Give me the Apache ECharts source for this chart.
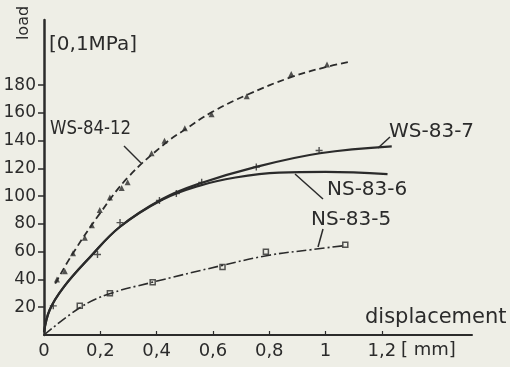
<!DOCTYPE html>
<html>
<head>
<meta charset="utf-8">
<script src="https://cdn.jsdelivr.net/npm/echarts@6/dist/echarts.min.js"></script>
<style>
  html, body { margin: 0; padding: 0; background: #eeeee6; }
  #main { width: 510px; height: 367px; }
</style>
</head>
<body>
<div id="main"></div>
<script>
// axis ticks
var xTicks = [0, 0.2, 0.4, 0.6, 0.8, 1.0, 1.2];
var yTicks = [20, 40, 60, 80, 100, 120, 140, 160, 180];

// WS-84-12 (dashed, triangles)
var ws8412CurveX = [0.04, 0.1, 0.2, 0.3, 0.43, 0.5, 0.6, 0.72, 0.88, 1.0, 1.09];
var ws8412CurveY = [37, 58, 88, 114, 138, 148, 161, 173, 186, 193, 197];
var ws8412PtsX = [0.046, 0.074, 0.103, 0.145, 0.17, 0.198, 0.234, 0.276, 0.297, 0.382, 0.428, 0.5, 0.595, 0.72, 0.878, 1.005];
var ws8412PtsY = [40, 46, 59, 70, 79, 90, 99, 106, 110, 131, 140, 149, 159, 172, 188, 195];

// WS-83-7 (solid)
var ws837CurveX = [0, 0.02, 0.068, 0.163, 0.27, 0.42, 0.55, 0.75, 0.98, 1.235];
var ws837CurveY = [2, 18, 34, 56, 78, 98, 109, 121, 131, 136];
var ws837PtsX = [0.033, 0.19, 0.27, 0.41, 0.47, 0.56, 0.754, 0.977];
var ws837PtsY = [21, 58, 81, 97, 102, 110, 121, 133];

// NS-83-6 (solid)
var ns836CurveX = [0, 0.02, 0.068, 0.163, 0.27, 0.42, 0.55, 0.68, 0.835, 1.0, 1.22];
var ns836CurveY = [2, 18, 34, 56, 78, 97.5, 107.5, 113.5, 117, 117.5, 116];

// NS-83-5 (dash-dot, squares)
var ns835CurveX = [0, 0.13, 0.23, 0.375, 0.63, 0.8, 0.95, 1.07];
var ns835CurveY = [0, 20, 29.5, 37.5, 50, 57.5, 61.5, 64.5];
var ns835PtsX = [0.127, 0.234, 0.386, 0.634, 0.788, 1.07];
var ns835PtsY = [21, 30, 38, 49, 60, 65];

function pairs(xs, ys) {
  return xs.map(function (x, i) { return [x, ys[i]]; });
}

var ink = '#2b2b2b';
var font = 'DejaVu Sans';

var chart = echarts.init(document.getElementById('main'), null, { renderer: 'canvas' });

function label(text, x, y, size, sx) {
  return {
    type: 'text', x: x, y: y, scaleX: sx || 1,
    style: { text: text, fill: ink, font: size + 'px "' + font + '"', textVerticalAlign: 'top' },
    z: 10
  };
}
function leader(points) {
  return {
    type: 'polyline', shape: { points: points },
    style: { stroke: ink, lineWidth: 1.5, fill: null }, z: 10
  };
}

var option = {
  backgroundColor: '#eeeee6',
  animation: false,
  grid: { left: 44, top: 20, width: 428, height: 315 },
  xAxis: {
    type: 'value', min: 0, max: 1.52,
    splitLine: { show: false },
    axisLine: { lineStyle: { color: ink, width: 2 } },
    axisTick: { customValues: [0.2, 0.4, 0.6, 0.8, 1.0, 1.2], inside: true, length: 4, lineStyle: { color: ink, width: 1.2 } },
    axisLabel: {
      customValues: xTicks, margin: 7, color: ink, fontFamily: font, fontSize: 18,
      formatter: function (v) { return String(v).replace('.', ','); }
    }
  },
  yAxis: {
    type: 'value', min: 0, max: 227,
    splitLine: { show: false },
    axisLine: { lineStyle: { color: ink, width: 2.5 } },
    axisTick: { customValues: yTicks, length: 6, lineStyle: { color: ink, width: 1.5 } },
    axisLabel: { customValues: yTicks, margin: 8, color: ink, fontFamily: font, fontSize: 17 }
  },
  series: [
    { type: 'line', data: pairs(ws8412CurveX, ws8412CurveY), smooth: 0.4, symbol: 'none',
      lineStyle: { color: ink, width: 1.8, type: [7, 4] } },
    { type: 'line', data: pairs(ws837CurveX, ws837CurveY), smooth: 0.4, symbol: 'none',
      lineStyle: { color: ink, width: 2.2 } },
    { type: 'line', data: pairs(ns836CurveX, ns836CurveY), smooth: 0.4, symbol: 'none',
      lineStyle: { color: ink, width: 2.2 } },
    { type: 'line', data: pairs(ns835CurveX, ns835CurveY), smooth: 0.4, symbol: 'none',
      lineStyle: { color: ink, width: 1.6, type: [10, 3, 2, 3] } },
    { type: 'scatter', data: pairs(ws8412PtsX, ws8412PtsY), symbol: 'triangle', symbolSize: 6,
      itemStyle: { color: ink } },
    { type: 'scatter', data: pairs(ws837PtsX, ws837PtsY), symbol: 'path://M4,0h2v10h-2z M0,4h10v2h-10z', symbolSize: 7,
      itemStyle: { color: ink } },
    { type: 'scatter', data: pairs(ns835PtsX, ns835PtsY), symbol: 'rect', symbolSize: 5,
      itemStyle: { color: '#eeeee6', borderColor: ink, borderWidth: 1.5 } }
  ],
  graphic: [
    { type: 'text', x: 24, y: 23, rotation: Math.PI / 2,
      style: { text: 'load', fill: ink, font: '16px "' + font + '"', textAlign: 'center', textVerticalAlign: 'middle' } },
    label('[0,1MPa]', 49, 35, 20),
    label('WS-84-12', 50, 119, 20, 0.83),
    label('WS-83-7', 389, 122, 20),
    label('NS-83-6', 327, 180, 20),
    label('NS-83-5', 311, 210, 20),
    label('displacement', 365, 307, 21),
    label('[ mm]', 401, 341, 18),
    leader([[124, 146], [141, 163]]),
    leader([[378, 148], [390, 137]]),
    leader([[295, 174], [323, 199]]),
    leader([[323, 229], [318, 247]])
  ]
};

chart.setOption(option);
</script>
</body>
</html>
